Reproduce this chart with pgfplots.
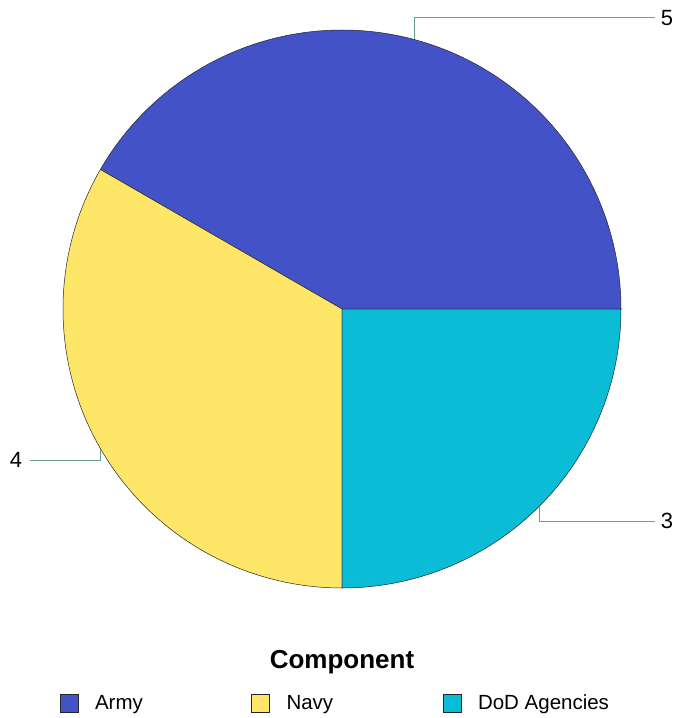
\documentclass[border=0pt]{standalone}
\usepackage{pgfplots}
\pgfplotsset{compat=1.18}
\usepackage{pgfplotstable}
\usepackage{fontspec}
\setmainfont{Liberation Sans}
\definecolor{army}{RGB}{68,82,200}
\definecolor{navy}{RGB}{253,230,104}
\definecolor{dod}{RGB}{10,188,214}
\definecolor{leader}{RGB}{104,160,150}

\pgfplotstableread{
component value
Army 5
Navy 4
DoD 3
}\piedata

\begin{document}
\begin{tikzpicture}
\pgfplotstablegetelem{0}{value}\of\piedata \let\vA\pgfplotsretval
\pgfplotstablegetelem{1}{value}\of\piedata \let\vB\pgfplotsretval
\pgfplotstablegetelem{2}{value}\of\piedata \let\vC\pgfplotsretval
\pgfmathsetmacro\tot{\vA+\vB+\vC}
\pgfmathsetmacro\aA{360*\vA/\tot}
\pgfmathsetmacro\aB{\aA+360*\vB/\tot}
\pgfmathsetmacro\aC{\aB+360*\vC/\tot}
\begin{axis}[
  scale only axis, width=675bp, height=718bp,
  xmin=0, xmax=675, ymin=0, ymax=718, y dir=reverse,
  hide axis, clip=false,
  legend columns=3,
  legend cell align=left,
  legend style={at={(axis cs:59.3,703)}, anchor=west, draw=none, fill=none,
    inner sep=0pt, font=\fontsize{20.5bp}{24bp}\selectfont,
    /tikz/every odd column/.append style={column sep=17bp},
    nodes={inner sep=0pt}},
  legend image code/.code={\draw[#1] (0bp,-9bp) rectangle (18bp,9bp);},
]
\addplot[fill=army, draw=black!85, line width=0.5bp, domain=0:\aA, samples=151]
  ({342+279*cos(x)},{309-279*sin(x)}) -- (axis cs:342,309) -- cycle;
\addlegendentry{\makebox[156bp][l]{Army}}
\addplot[fill=navy, draw=black!85, line width=0.5bp, domain=\aA:\aB, samples=121]
  ({342+279*cos(x)},{309-279*sin(x)}) -- (axis cs:342,309) -- cycle;
\addlegendentry{\makebox[156bp][l]{Navy}}
\addplot[fill=dod, draw=black!85, line width=0.5bp, domain=\aB:\aC, samples=91]
  ({342+279*cos(x)},{309-279*sin(x)}) -- (axis cs:342,309) -- cycle;
\addlegendentry{DoD Agencies}

\addplot[leader, line width=1bp, forget plot] coordinates {(414.2,39.5) (414.2,18) (655,18)};
\addplot[leader, line width=1bp, forget plot] coordinates {(100.4,448.5) (100.4,460) (30,460)};
\addplot[leader, line width=1bp, forget plot] coordinates {(539.3,506.3) (539.3,521) (655,521)};

\node[font=\fontsize{22bp}{26bp}\selectfont] at (axis cs:667,18) {\vA};
\node[font=\fontsize{22bp}{26bp}\selectfont] at (axis cs:16,460) {\vB};
\node[font=\fontsize{22bp}{26bp}\selectfont] at (axis cs:667,521) {\vC};
\node[font=\bfseries\fontsize{26bp}{30bp}\selectfont] at (axis cs:342,662) {Component};
\end{axis}
\pgfresetboundingbox
\path (current axis.south west) rectangle (current axis.north east);
\end{tikzpicture}
\end{document}
